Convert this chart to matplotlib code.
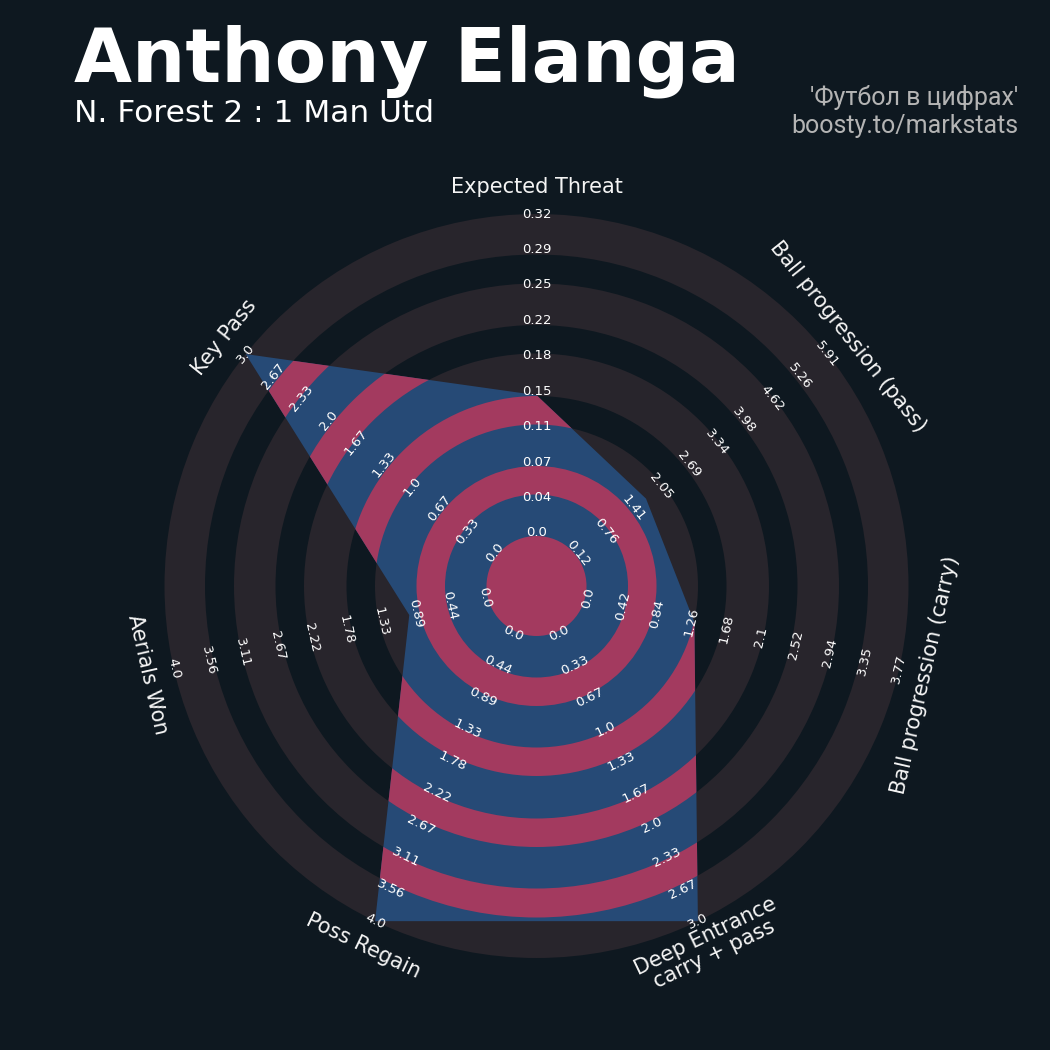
import matplotlib
matplotlib.use('Agg')
import matplotlib.pyplot as plt
from matplotlib.patches import Polygon, Wedge, Circle
import numpy as np

# ---------------- data ----------------
params = ['Expected Threat', 'Ball progression (pass)', 'Ball progression (carry)',
          'Deep Entrance\ncarry + pass', 'Poss Regain', 'Aerials Won', 'Key Pass']
values = [0.14, 1.74, 1.31, 3.0, 4.0, 1.0, 3.0]
range_labels = [
    ['0.0', '0.04', '0.07', '0.11', '0.15', '0.18', '0.22', '0.25', '0.29', '0.32'],
    ['0.12', '0.76', '1.41', '2.05', '2.69', '3.34', '3.98', '4.62', '5.26', '5.91'],
    ['0.0', '0.42', '0.84', '1.26', '1.68', '2.1', '2.52', '2.94', '3.35', '3.77'],
    ['0.0', '0.33', '0.67', '1.0', '1.33', '1.67', '2.0', '2.33', '2.67', '3.0'],
    ['0.0', '0.44', '0.89', '1.33', '1.78', '2.22', '2.67', '3.11', '3.56', '4.0'],
    ['0.0', '0.44', '0.89', '1.33', '1.78', '2.22', '2.67', '3.11', '3.56', '4.0'],
    ['0.0', '0.33', '0.67', '1.0', '1.33', '1.67', '2.0', '2.33', '2.67', '3.0'],
]
title = 'Anthony Elanga'
subtitle = 'N. Forest 2 : 1 Man Utd'
credit1 = "'Футбол в цифрах'"
credit2 = 'boosty.to/markstats'

# ---------------- style ----------------
BG = '#0e1820'
GREY = '#28252c'
BLUE = '#264a76'
PINK = '#a33a5f'

W = H = 1050
cx, cy = 536.5, 586.0          # radar centre (pixels from left / top)
R_IN, R_OUT = 50.0, 372.0
ring_bounds = [50, 91.5, 120, 161.5, 190, 232.5, 261, 302.5, 331.5, 372]

fig = plt.figure(figsize=(10.5, 10.5), dpi=100, facecolor=BG)
ax = fig.add_axes([0, 0, 1, 1])
ax.set_facecolor(BG)
ax.set_xlim(-cx, W - cx)
ax.set_ylim(-(H - cy), cy)
ax.axis('off')

n = len(params)
angles = np.deg2rad(90 - np.arange(n) * 360.0 / n)

def radius(i, v):
    lo = float(range_labels[i][0]); hi = float(range_labels[i][-1])
    return R_IN + (v - lo) / (hi - lo) * (R_OUT - R_IN)

def rot_for(theta):
    r = np.rad2deg(theta) - 90
    r = (r + 180) % 360 - 180
    if r > 90:
        r -= 180
    elif r < -90:
        r += 180
    return r

# grey rings
grey_pairs = [(ring_bounds[k], ring_bounds[k + 1]) for k in range(0, 10, 2)]
for a, b in grey_pairs:
    ax.add_patch(Wedge((0, 0), b, 0, 360, width=b - a, facecolor=GREY, edgecolor='none', zorder=1))

# radar polygon
rs = [radius(i, v) for i, v in enumerate(values)]
verts = np.column_stack([np.array(rs) * np.cos(angles), np.array(rs) * np.sin(angles)])
poly = Polygon(verts, closed=True, facecolor=BLUE, edgecolor='none', zorder=2)
ax.add_patch(poly)

# pink rings clipped to polygon
c = Circle((0, 0), ring_bounds[0], facecolor=PINK, edgecolor='none', zorder=3)
ax.add_patch(c); c.set_clip_path(poly)
for k in range(1, 9, 2):
    a, b = ring_bounds[k], ring_bounds[k + 1]
    w = Wedge((0, 0), b, 0, 360, width=b - a, facecolor=PINK, edgecolor='none', zorder=3)
    ax.add_patch(w); w.set_clip_path(poly)

# range labels
label_r = np.linspace(R_IN + 3, R_OUT, 10)
for i, th in enumerate(angles):
    rot = rot_for(th)
    for r, lab in zip(label_r, range_labels[i]):
        ax.text(r * np.cos(th), r * np.sin(th), lab, ha='center', va='center',
                rotation=rot, rotation_mode='anchor', fontsize=9.5, color='white', zorder=5)

# parameter labels
for i, th in enumerate(angles):
    r = 399
    ax.text(r * np.cos(th), r * np.sin(th), params[i], ha='center', va='center',
            rotation=rot_for(th), rotation_mode='anchor', fontsize=15, color='#f4f4f4',
            multialignment='center', linespacing=1.0, zorder=5)

# titles
fig.text(74 / W, 1 - 82 / H, title, fontsize=54, fontweight='bold', color='white',
         ha='left', va='baseline', family='DejaVu Sans')
fig.text(74 / W, 1 - 122 / H, subtitle, fontsize=22.5, color='white',
         ha='left', va='baseline', family='DejaVu Sans')
fig.text(1018 / W, 1 - 105 / H, credit1, fontsize=18, color='#b4b4b4',
         ha='right', va='baseline', family=['Roboto', 'DejaVu Sans'])
fig.text(1018 / W, 1 - 133 / H, credit2, fontsize=18, color='#b4b4b4',
         ha='right', va='baseline', family=['Roboto', 'DejaVu Sans'])

fig.savefig('out.png', dpi=100, facecolor=BG)
